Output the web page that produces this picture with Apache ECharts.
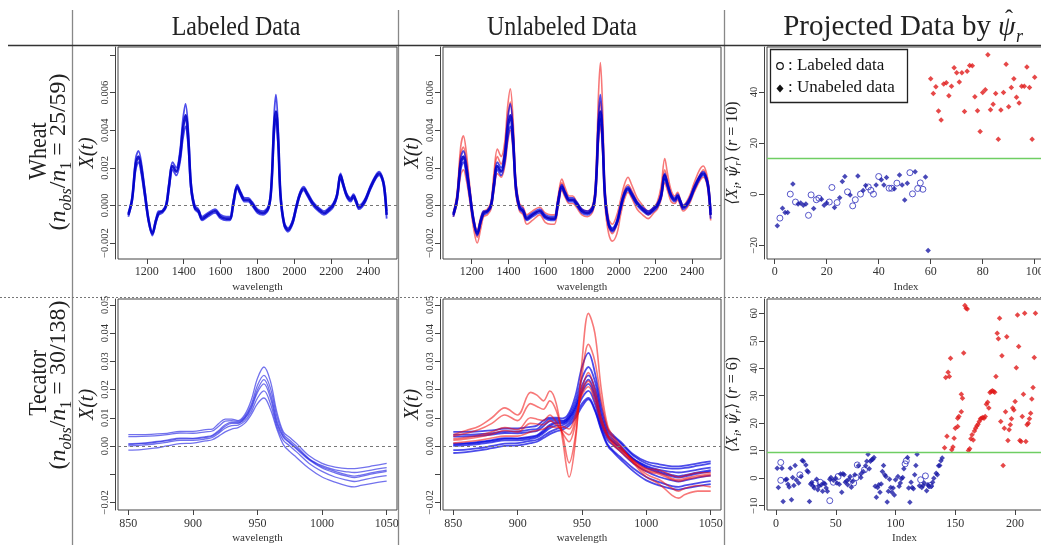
<!DOCTYPE html>
<html><head><meta charset="utf-8">
<script src="https://cdn.jsdelivr.net/npm/echarts@6/dist/echarts.min.js"></script>
<style>html,body{margin:0;padding:0;background:#fff}#c{width:1041px;height:545px}</style>
</head><body><div id="c"></div>
<script>
// ---------------- DATA ----------------
const COL_TITLES = ['Labeled Data', 'Unlabeled Data', 'Projected Data by'];
const ROW_NAMES = ['Wheat', 'Tecator'];
const ROW_COUNTS = ['25/59', '30/138'];

// Wheat spectra (wavelength grid, curves)
const W_WL = [1100,1120,1140,1155,1170,1190,1210,1230,1250,1265,1285,1305,1320,1340,1360,1380,1395,1410,1425,1440,1460,1480,1500,1530,1570,1600,1630,1650,1670,1690,1710,1730,1750,1770,1800,1830,1860,1875,1890,1900,1912,1925,1945,1965,1990,2010,2030,2050,2070,2100,2130,2160,2190,2210,2230,2250,2265,2285,2305,2320,2335,2350,2380,2410,2440,2460,2480,2490,2500];
const W_LAB_MID = [-0.0005,0.0003,0.0022,0.0026,0.0020, 0.0006,-0.0008,-0.0015,-0.0008,-0.0004, -0.0003,0.0000,0.0010,0.0021,0.0018, 0.0026,0.0040,0.0048,0.0035,0.0010, -0.0001,-0.0003,-0.0007,-0.0005,-0.0003, -0.0006,-0.0007,-0.0007,0.0002,0.0010, 0.0006,0.0003,0.0003,0.0001,-0.0003, -0.0004,-0.0001,0.0010,0.0042,0.0050, 0.0035,0.0005,-0.0010,-0.0013,-0.0009, -0.0001,0.0006,0.0009,0.0006,0.0001, -0.0002,-0.0004,-0.0002,0.0000,0.0005, 0.0016,0.0011,0.0005,0.0003,0.0005, 0.0002,-0.0001,0.0002,0.0009,0.0015, 0.0017,0.0013,0.0007,-0.0005];
const W_LAB_HI = [-0.0004,0.0004,0.0025,0.0029,0.0023, 0.0008,-0.0007,-0.0014,-0.0007,-0.0003, -0.0003,0.0001,0.0012,0.0023,0.0020, 0.0029,0.0045,0.0054,0.0040,0.0012, 0.0000,-0.0002,-0.0006,-0.0004,-0.0002, -0.0005,-0.0006,-0.0006,0.0003,0.0011, 0.0007,0.0004,0.0004,0.0002,-0.0002, -0.0003,0.0000,0.0012,0.0048,0.0059, 0.0041,0.0007,-0.0009,-0.0012,-0.0008, 0.0000,0.0007,0.0010,0.0007,0.0002, -0.0001,-0.0003,-0.0001,0.0001,0.0006, 0.0017,0.0012,0.0006,0.0004,0.0006, 0.0003,0.0000,0.0003,0.0010,0.0016, 0.0018,0.0014,0.0009,-0.0003];
const W_LAB_LO = [-0.0006,0.0002,0.0019,0.0023,0.0017, 0.0004,-0.0009,-0.0016,-0.0009,-0.0005, -0.0004,-0.0001,0.0008,0.0019,0.0016, 0.0023,0.0035,0.0042,0.0031,0.0008, -0.0002,-0.0004,-0.0008,-0.0006,-0.0004, -0.0007,-0.0008,-0.0008,0.0000,0.0009, 0.0005,0.0002,0.0002,0.0000,-0.0004, -0.0005,-0.0002,0.0008,0.0037,0.0046, 0.0031,0.0003,-0.0011,-0.0014,-0.0010, -0.0002,0.0005,0.0008,0.0005,0.0000, -0.0003,-0.0005,-0.0003,-0.0001,0.0004, 0.0014,0.0010,0.0004,0.0002,0.0004, 0.0001,-0.0002,0.0001,0.0008,0.0014, 0.0016,0.0012,0.0005,-0.0007];
const W_UNL_RED_HI = [-0.0004,0.0006,0.0031,0.0037,0.0029, 0.0010,-0.0006,-0.0013,-0.0006,-0.0003, -0.0002,0.0002,0.0016,0.0030,0.0026, 0.0034,0.0052,0.0062,0.0046,0.0014, 0.0001,-0.0001,-0.0005,-0.0003,-0.0001, -0.0004,-0.0005,-0.0005,0.0005,0.0014, 0.0009,0.0005,0.0005,0.0002,-0.0002, -0.0003,0.0001,0.0016,0.0060,0.0076, 0.0052,0.0010,-0.0007,-0.0010,-0.0005, 0.0003,0.0011,0.0015,0.0011,0.0004, 0.0000,-0.0003,-0.0001,0.0002,0.0010, 0.0025,0.0017,0.0008,0.0005,0.0007, 0.0003,0.0000,0.0004,0.0012,0.0019, 0.0021,0.0016,0.0010,-0.0002];
const W_UNL_RED_MID = [-0.0005,0.0005,0.0027,0.0031,0.0024, 0.0007,-0.0008,-0.0017,-0.0009,-0.0004, -0.0003,0.0000,0.0013,0.0026,0.0022, 0.0030,0.0046,0.0055,0.0040,0.0011, -0.0001,-0.0003,-0.0007,-0.0005,-0.0003, -0.0006,-0.0007,-0.0007,0.0003,0.0012, 0.0007,0.0003,0.0003,0.0001,-0.0003, -0.0004,-0.0001,0.0011,0.0045,0.0055, 0.0038,0.0005,-0.0011,-0.0015,-0.0010, -0.0001,0.0008,0.0011,0.0008,0.0002, -0.0002,-0.0005,-0.0002,0.0000,0.0007, 0.0019,0.0013,0.0006,0.0003,0.0005, 0.0002,-0.0001,0.0002,0.0010,0.0016, 0.0019,0.0014,0.0008,-0.0005];
const W_UNL_RED_LO = [-0.0006,0.0001,0.0016,0.0019,0.0014, 0.0002,-0.0012,-0.0020,-0.0012,-0.0006, -0.0005,-0.0002,0.0007,0.0017,0.0015, 0.0021,0.0033,0.0040,0.0029,0.0006, -0.0003,-0.0005,-0.0010,-0.0008,-0.0005, -0.0009,-0.0010,-0.0010,-0.0001,0.0008, 0.0004,0.0001,0.0001,-0.0001,-0.0005, -0.0006,-0.0003,0.0006,0.0034,0.0043, 0.0028,0.0000,-0.0015,-0.0019,-0.0015, -0.0005,0.0003,0.0007,0.0004,-0.0002, -0.0005,-0.0007,-0.0004,-0.0002,0.0003, 0.0012,0.0008,0.0002,0.0001,0.0003, 0.0000,-0.0003,0.0000,0.0007,0.0013, 0.0015,0.0011,0.0003,-0.0008];

// Tecator spectra
const T_WL = [850,860,870,880,890,900,910,915,920,925,930,935,940,945,950,955,960,965,970,975,980,990,1000,1010,1020,1025,1030,1040,1050];
const T_LAB_HI  = [0.0040,0.0040,0.0042,0.0045,0.0052,0.0052,0.0058,0.0060,0.0080,0.0095,0.0095,0.0090,0.0110,0.0160,0.0240,0.0280,0.0230,0.0120,0.0050,0.0030,0.0010,-0.0035,-0.0062,-0.0075,-0.0080,-0.0080,-0.0078,-0.0070,-0.0062];
const T_LAB_MH  = [0.0033,0.0034,0.0036,0.0040,0.0046,0.0045,0.0050,0.0053,0.0070,0.0088,0.0090,0.0087,0.0103,0.0145,0.0215,0.0250,0.0205,0.0105,0.0042,0.0020,0.0000,-0.0045,-0.0070,-0.0085,-0.0092,-0.0094,-0.0092,-0.0084,-0.0077];
const T_LAB_MID = [0.0005,0.0008,0.0012,0.0018,0.0025,0.0025,0.0030,0.0035,0.0050,0.0070,0.0080,0.0080,0.0095,0.0130,0.0190,0.0220,0.0170,0.0080,0.0030,0.0010,-0.0010,-0.0050,-0.0078,-0.0095,-0.0108,-0.0112,-0.0108,-0.0098,-0.0090];
const T_LAB_M2  = [0.0008,0.0010,0.0015,0.0021,0.0028,0.0027,0.0033,0.0038,0.0055,0.0075,0.0084,0.0083,0.0099,0.0137,0.0200,0.0235,0.0185,0.0090,0.0035,0.0013,-0.0006,-0.0047,-0.0074,-0.0090,-0.0103,-0.0107,-0.0103,-0.0094,-0.0086];
const T_LAB_ML  = [0.0000,0.0003,0.0007,0.0013,0.0020,0.0020,0.0025,0.0030,0.0045,0.0063,0.0072,0.0074,0.0088,0.0120,0.0170,0.0195,0.0150,0.0070,0.0020,0.0000,-0.0020,-0.0062,-0.0090,-0.0110,-0.0122,-0.0126,-0.0122,-0.0112,-0.0105];
const T_LAB_LO  = [-0.0015,-0.0013,-0.0008,0.0000,0.0008,0.0010,0.0018,0.0022,0.0035,0.0050,0.0060,0.0065,0.0080,0.0110,0.0150,0.0170,0.0130,0.0060,0.0005,-0.0020,-0.0040,-0.0080,-0.0110,-0.0128,-0.0142,-0.0145,-0.0140,-0.0132,-0.0125];
const T_UNL_BLUE_HI = [0.0050,0.0050,0.0052,0.0055,0.0062,0.0062,0.0068,0.0072,0.0090,0.0100,0.0100,0.0098,0.0118,0.0180,0.0280,0.0330,0.0260,0.0140,0.0060,0.0035,0.0015,-0.0030,-0.0055,-0.0065,-0.0072,-0.0072,-0.0070,-0.0062,-0.0055];
const T_UNL_BLUE_LO = [-0.0025,-0.0022,-0.0016,-0.0008,0.0000,0.0002,0.0010,0.0015,0.0028,0.0042,0.0052,0.0058,0.0072,0.0100,0.0140,0.0165,0.0125,0.0055,0.0000,-0.0025,-0.0048,-0.0090,-0.0122,-0.0140,-0.0152,-0.0155,-0.0150,-0.0142,-0.0135];
const T_UNL_RED_HI  = [0.0040,0.0055,0.0070,0.0100,0.0135,0.0110,0.0190,0.0180,0.0160,0.0195,0.0150,0.0020,-0.0110,0.0020,0.0300,0.0470,0.0400,0.0200,0.0070,0.0030,0.0000,-0.0060,-0.0110,-0.0135,-0.0175,-0.0185,-0.0172,-0.0160,-0.0160];
const T_UNL_RED_H2  = [0.0035,0.0045,0.0058,0.0080,0.0110,0.0090,0.0150,0.0140,0.0130,0.0160,0.0125,0.0040,-0.0060,0.0040,0.0250,0.0360,0.0300,0.0160,0.0060,0.0020,-0.0005,-0.0055,-0.0100,-0.0120,-0.0150,-0.0160,-0.0150,-0.0140,-0.0145];
const T_UNL_RED_MID = [0.0025,0.0030,0.0038,0.0050,0.0065,0.0058,0.0100,0.0095,0.0090,0.0110,0.0085,0.0045,0.0015,0.0080,0.0200,0.0260,0.0200,0.0100,0.0040,0.0010,-0.0010,-0.0050,-0.0080,-0.0085,-0.0105,-0.0110,-0.0105,-0.0095,-0.0095];
const T_UNL_RED_M2  = [0.0020,0.0025,0.0032,0.0042,0.0055,0.0050,0.0080,0.0078,0.0075,0.0090,0.0075,0.0055,0.0040,0.0095,0.0190,0.0230,0.0180,0.0090,0.0035,0.0005,-0.0015,-0.0055,-0.0085,-0.0095,-0.0115,-0.0120,-0.0115,-0.0105,-0.0100];
const T_UNL_RED_LO  = [0.0010,0.0015,0.0020,0.0028,0.0035,0.0035,0.0050,0.0055,0.0060,0.0070,0.0065,0.0068,0.0060,0.0110,0.0180,0.0210,0.0160,0.0080,0.0030,0.0000,-0.0020,-0.0060,-0.0090,-0.0100,-0.0120,-0.0125,-0.0120,-0.0110,-0.0105];

// Wheat projections, index 1..100 (1..59 class 1 / blue)
const WHEAT_N1 = 59;
const WHEAT_PROJ = [-12.4,-9.4,-5.5,-7.2,-7.2,0,4.0,-3.1,-3.9,-3.5, -4.4,-3.9,-8.3,-0.3,-5.6,-2.2,-1.6,-2.0,-4.4,-3.5, -3.1,2.6,-5.2,-3.3,-1.4,4.9,6.9,0.9,-0.3,-4.6, -2.2,7.1,0,1.4,3.4,2.8,1.5,0,3.6,6.9, 5.6,3.6,6.5,2.3,2.3,2.1,4.3,7.5,3.6,-2.3, 4.3,8.4,0.1,8.8,2.2,4.4,1.9,6.7,-22.1,
  45.2,39.4,42.0,32.5,29.0,43.1,43.6,38.5,42.2,49.5, 47.5,43.9,47.5,32.3,48.1,50.4,50.3,38.1,32.6,24.5, 39.8,40.9,54.6,33.0,35.2,39.4,21.5,32.9,39.8,50.8, 34.2,41.7,45.2,37.9,35.7,42.2,42.2,49.8,41.7,21.5, 45.8];
const WHEAT_OPEN = [2,6,8,13,14,16,17,21,22,24,28,30,31,33,36,37,38,40,44,45,47,52,53,55,56,57];
const WHEAT_CUT = 14;

// Tecator projections
const TEC_B_IDX = [1,2,4,4,5,6,8,9,10,11, 12,13,14,15,16,17,19,20,21,22, 23,25,26,27,28,29,30,31,32,33, 34,35,36,37,38,39,40,41,42,43, 45,45,46,48,48,50,51,52,53,54, 55,56,57,58,59,60,61,62,63,64, 65,66,67,68,69,71,71,73,74,75, 76,77,78,79,80,81,82,83,84,85, 86,87,88,89,90,91,92,93,94,95, 96,97,98,99,100,102,103,104,105,106, 107,108,109,110,111,112,113,114,115,116, 117,118,120,121,122,123,124,125,126,127, 128,129,130,131,132,134,135,136,137,138, 139];
const TEC_B_VAL = [3.6,-3.4,-0.8,5.7,3.6,-8.5,-0.6,-0.4,-2.2,-3.2, 3.6,-7.9,0.2,-2.7,4.6,-0.7,-1.8,1.2,0.6,6.4, 6.1,4.8,2.7,2.2,-8.5,-2.1,-1.6,-2.9,-3.6,-1.8, -0.4,-4.2,-3.0,-1.5,-2.4,-4.8,-1.8,-2.1,-3.6,-4.8, -8.2,-0.4,0.2,-1.5,-0.8,0,-1.8,0.6,-2.2,1.5, -5.1,1.6,1.2,-1.5,-1.0,-2.4,-0.4,0.6,-3.3,-1.2, -1.8,1.2,0.2,4.8,4.5,0.2,1.5,2.4,3.0,4.5, 6.1,8.7,3.4,6.1,6.7,6.9,7.5,-3.0,-7.0,-3.4, -2.4,-5.1,-2.1,2.4,4.6,1.2,0.6,-8.7,-4.8,-0.4, -3.4,-5.1,-3.6,-6.1,-0.6,0.6,-3.0,-1.8,-0.2,0.2, 3.4,5.2,6.3,7.5,-3.6,-8.8,-1.5,-3.4,-3.9,1.2, 4.6,8.7,-2.8,-0.6,-3.4,-2.7,-1.8,0.8,-4.6,-2.4, -3.0,-2.7,-3.0,-1.5,0,1.8,1.2,4.5,4.6,6.3, 7.3];
const TEC_B_OPEN = [0,0,1,1,0,0,0,0,0,0, 0,0,0,0,0,0,0,1,0,0, 0,0,0,0,0,0,0,0,0,1, 0,0,0,1,0,0,0,0,0,0, 1,0,0,1,0,0,0,1,0,0, 0,0,0,0,0,0,0,0,0,0, 1,0,1,1,0,0,0,0,1,0, 0,0,0,0,0,0,0,0,0,0, 0,0,0,0,0,0,0,0,0,0, 0,0,0,0,0,0,0,0,0,0, 0,1,1,0,0,0,0,0,0,0, 0,0,0,1,0,0,0,1,0,0, 0,1,0,0,0,0,0,0,0,0, 0];
const TEC_R_IDX = [141,142,143,144,145,146,147,148,149,150, 152,152,153,155,155,156,157,158,159,160, 161,162,163,164,165,166,167,168,169,170, 171,172,173,174,175,176,177,178,179,180, 181,182,183,184,185,186,187,188,189,190, 191,192,193,194,195,196,197,198,199,200, 201,202,203,204,205,206,207,208,209,210, 211,212,213,214,215,216,217];
const TEC_R_VAL = [11.1,36.6,15.2,38.5,37.0,43.6,10.3,11.3,14.5,18.2, 18.8,21.8,22.4,24.2,30.5,29.1,45.5,62.8,61.8,61.6, 10.1,10.7,14.3,15.8,13.9,17.2,18.2,19.0,19.6,20.6, 21.6,21.8,22.1,21.8,22.4,26.9,27.6,25.5,31.2,31.5, 31.8,31.5,31.3,37.0,52.7,50.7,58.2,20.6,44.5,4.6, 18.2,24.2,51.5,13.7,17.6,19.4,21.6,25.5,24.8,27.9, 40.2,59.4,47.9,13.7,13.3,22.4,30.5,60.0,13.3,19.4, 20.0,21.6,23.6,28.8,33.0,43.9,60.0];
const TEC_CUT = 9.5;

// Axis ticks
const W_XTICKS = [1200,1400,1600,1800,2000,2200,2400];
const W_YTICKS = [-0.002,0,0.002,0.004,0.006,0.008];
const W_YLABELS = [-0.002,0,0.002,0.004,0.006];
const T_XTICKS = [850,900,950,1000,1050];
const T_YTICKS = [-0.02,-0.01,0,0.01,0.02,0.03,0.04,0.05];
const T_YLABELS = [-0.02,0,0.01,0.02,0.03,0.04,0.05];
const WP_XTICKS = [0,20,40,60,80,100];
const WP_YTICKS = [-20,0,20,40];
const TP_XTICKS = [0,50,100,150,200];
const TP_YTICKS = [-10,0,10,20,30,40,50,60];

// ---------------- CHART ----------------
const FONT = '"Liberation Serif", "DejaVu Serif", serif';
const HATFONT = '"DejaVu Serif", serif';
const BLUE_LINE = 'rgba(0,0,225,0.7)';
const RED_LINE = 'rgba(240,10,10,0.55)';
const BLUE_PT = '#1c1ca6';
const RED_PT = '#e01a1a';
const minus = s => s.replace('-', '\u2212');
const f3 = v => minus(v.toFixed(3));
const f2 = v => minus(v.toFixed(2));
const f0 = v => minus(String(Math.round(v)));

const gridsPos = [
  {left: 118, top: 47, width: 279, height: 212},
  {left: 443, top: 47, width: 278, height: 212},
  {left: 767, top: 47, width: 278, height: 212},
  {left: 118, top: 299, width: 279, height: 211},
  {left: 443, top: 299, width: 278, height: 211},
  {left: 767, top: 299, width: 275, height: 211}
];
const grid = gridsPos.map(g => Object.assign({show: true, borderColor: '#444', borderWidth: 1, backgroundColor: 'transparent', containLabel: false, outerBoundsMode: 'none'}, g));

function xAx(gi, min, max, ticks, name, margin) {
  return {type: 'value', gridIndex: gi, min, max, splitLine: {show: false},
    axisLine: {show: false, onZero: false},
    axisTick: {show: true, length: 5, customValues: ticks, lineStyle: {color: '#444'}},
    axisLabel: {customValues: ticks, fontFamily: FONT, fontSize: 12, color: '#333', margin, formatter: f0},
    name, nameLocation: 'middle', nameGap: 23, nameTextStyle: {fontFamily: FONT, fontSize: 11, color: '#333'}};
}
function yAx(gi, min, max, ticks, labels, fmt, name, nameGap, extra) {
  return Object.assign({type: 'value', gridIndex: gi, min, max, offset: 3, splitLine: {show: false},
    axisLine: {show: true, onZero: false, lineStyle: {color: '#444'}},
    axisTick: {show: true, length: 5, customValues: ticks, lineStyle: {color: '#444'}},
    axisLabel: {customValues: labels, rotate: 90, fontFamily: FONT, fontSize: 10.5, color: '#333', margin: 4, formatter: fmt},
    name, nameLocation: 'middle', nameRotate: 90, nameGap}, extra || {});
}
const xtName = {nameTextStyle: {fontFamily: FONT, fontStyle: 'italic', fontSize: 20, color: '#222'}};
const projRich = () => ({
  nameTextStyle: {fontFamily: FONT, fontSize: 16, color: '#222', rich: {
    n: {fontFamily: FONT, fontSize: 16, color: '#222', verticalAlign: 'bottom', padding: [0, 0, 3, 0]},
    i: {fontFamily: FONT, fontSize: 16, fontStyle: 'italic', color: '#222', verticalAlign: 'bottom', padding: [0, 0, 3, 0]},
    h: {fontFamily: HATFONT, fontSize: 15, fontStyle: 'italic', color: '#222', verticalAlign: 'bottom', padding: [0, 0, 3, 0]},
    s: {fontFamily: FONT, fontSize: 11, fontStyle: 'italic', color: '#222', verticalAlign: 'bottom'}
  }}
});

const xAxis = [
  xAx(0, 1044, 2556, W_XTICKS, 'wavelength', 7),
  xAx(1, 1044, 2556, W_XTICKS, 'wavelength', 7),
  xAx(2, -2.96, 103.96, WP_XTICKS, 'Index', 7),
  xAx(3, 842, 1058, T_XTICKS, 'wavelength', 8),
  xAx(4, 842, 1058, T_XTICKS, 'wavelength', 8),
  xAx(5, -7.5, 222.5, TP_XTICKS, 'Index', 8)
];
const yAxis = [
  yAx(0, -0.00285, 0.00843, W_YTICKS, W_YLABELS, f3, 'X(t)', 17, xtName),
  yAx(1, -0.00285, 0.00843, W_YTICKS, W_YLABELS, f3, 'X(t)', 17, xtName),
  yAx(2, -25.4, 57.6, WP_YTICKS, WP_YTICKS, f0, '{i|\u27E8X}{s|i}{n|, }{h|\u03C8\u0302}{s|r}{n|\u27E9 (}{i|r}{n| = 10)}', 20, projRich()),
  yAx(3, -0.0227, 0.0521, T_YTICKS, T_YLABELS, f2, 'X(t)', 17, xtName),
  yAx(4, -0.0227, 0.0521, T_YTICKS, T_YLABELS, f2, 'X(t)', 17, xtName),
  yAx(5, -11.6, 65.2, TP_YTICKS, TP_YTICKS, f0, '{i|\u27E8X}{s|i}{n|, }{h|\u03C8\u0302}{s|r}{n|\u27E9 (}{i|r}{n| = 6)}', 20, projRich())
];

const pairs = (xs, ys) => xs.map((x, i) => [x, ys[i]]);
function curve(gi, xs, ys, color, w) {
  return {type: 'line', xAxisIndex: gi, yAxisIndex: gi, data: pairs(xs, ys), showSymbol: false, smooth: 0.35,
    lineStyle: {color, width: w || 1.6}, silent: true, animation: false};
}
function hline(gi, v, style) {
  return {type: 'line', xAxisIndex: gi, yAxisIndex: gi, data: [], silent: true, animation: false,
    markLine: {silent: true, symbol: 'none', label: {show: false}, animation: false, lineStyle: style, data: [{yAxis: v}]}};
}
function pts(gi, data, kind, color) {
  const open = kind === 'open';
  return {type: 'scatter', xAxisIndex: gi, yAxisIndex: gi, data, animation: false, silent: true,
    symbol: open ? 'circle' : 'diamond', symbolSize: open ? 6 : 5.5,
    itemStyle: open ? {color: 'rgba(0,0,0,0)', borderColor: color, borderWidth: 1, opacity: 0.85} : {color}};
}
const ZERO = {color: '#777', type: [3, 3], width: 1};
const CUT = {color: '#6fce63', type: 'solid', width: 1.3};

const series = [];
// Wheat labeled
series.push(hline(0, 0, ZERO));
[W_LAB_LO, W_LAB_HI].forEach(c => series.push(curve(0, W_WL, c, BLUE_LINE, 1.8)));
series.push(curve(0, W_WL, W_LAB_MID, 'rgba(0,0,200,0.9)', 2.6));
// Wheat unlabeled: red under blue
series.push(hline(1, 0, ZERO));
[W_UNL_RED_HI, W_UNL_RED_LO, W_UNL_RED_MID].forEach(c => series.push(curve(1, W_WL, c, RED_LINE, 1.6)));
[W_LAB_LO, W_LAB_HI].forEach(c => series.push(curve(1, W_WL, c, BLUE_LINE, 1.8)));
series.push(curve(1, W_WL, W_LAB_MID, 'rgba(0,0,200,0.9)', 2.6));
// Wheat projected
series.push(hline(2, WHEAT_CUT, CUT));
const wPts = WHEAT_PROJ.map((v, i) => [i + 1, v]);
series.push(pts(2, wPts.filter(p => p[0] <= WHEAT_N1 && WHEAT_OPEN.includes(p[0])), 'open', '#3a3ac0'));
series.push(pts(2, wPts.filter(p => p[0] <= WHEAT_N1 && !WHEAT_OPEN.includes(p[0])), 'fill', BLUE_PT));
series.push(pts(2, wPts.filter(p => p[0] > WHEAT_N1), 'fill', RED_PT));
// Tecator labeled
series.push(hline(3, 0, ZERO));
[T_LAB_HI, T_LAB_MH, T_LAB_MID, T_LAB_M2, T_LAB_ML, T_LAB_LO].forEach(c => series.push(curve(3, T_WL, c, 'rgba(20,20,225,0.6)', 1.3)));
// Tecator unlabeled: blue under red
series.push(hline(4, 0, ZERO));
[T_UNL_BLUE_HI, T_LAB_HI, T_LAB_MH, T_LAB_MID, T_LAB_M2, T_LAB_ML, T_LAB_LO, T_UNL_BLUE_LO].forEach(c => series.push(curve(4, T_WL, c, BLUE_LINE, 1.8)));
[T_UNL_RED_HI, T_UNL_RED_H2, T_UNL_RED_MID, T_UNL_RED_M2, T_UNL_RED_LO].forEach(c => series.push(curve(4, T_WL, c, RED_LINE, 1.6)));
// Tecator projected
series.push(hline(5, TEC_CUT, CUT));
const tB = pairs(TEC_B_IDX, TEC_B_VAL);
series.push(pts(5, tB.filter((p, i) => TEC_B_OPEN[i]), 'open', '#3a3ac0'));
series.push(pts(5, tB.filter((p, i) => !TEC_B_OPEN[i]), 'fill', BLUE_PT));
series.push(pts(5, pairs(TEC_R_IDX, TEC_R_VAL), 'fill', RED_PT));

// ------------- frame graphics -------------
const rowRich = {
  p: {fontFamily: FONT, fontSize: 24, fill: '#222', verticalAlign: 'bottom', padding: [0, 0, 4, 0]},
  i: {fontFamily: FONT, fontSize: 24, fontStyle: 'italic', fill: '#222', verticalAlign: 'bottom', padding: [0, 0, 4, 0]},
  s: {fontFamily: FONT, fontSize: 16, fontStyle: 'italic', fill: '#222', verticalAlign: 'bottom'},
  u: {fontFamily: FONT, fontSize: 16, fill: '#222', verticalAlign: 'bottom'}
};
const titleStyle = {fontFamily: FONT, fontSize: 24, fill: '#222', align: 'center', verticalAlign: 'middle'};
const graphic = [
  {type: 'line', shape: {x1: 72.5, y1: 10, x2: 72.5, y2: 545}, style: {stroke: '#888', lineWidth: 1.3}, silent: true},
  {type: 'line', shape: {x1: 398.5, y1: 10, x2: 398.5, y2: 545}, style: {stroke: '#888', lineWidth: 1.3}, silent: true},
  {type: 'line', shape: {x1: 724.5, y1: 10, x2: 724.5, y2: 545}, style: {stroke: '#888', lineWidth: 1.3}, silent: true},
  {type: 'line', shape: {x1: 8, y1: 45.5, x2: 1041, y2: 45.5}, style: {stroke: '#333', lineWidth: 1.5}, silent: true},
  {type: 'line', shape: {x1: 0, y1: 297.5, x2: 1041, y2: 297.5}, style: {stroke: '#777', lineWidth: 1, lineDash: [2, 2]}, silent: true},
  {type: 'text', x: 236, y: 28, scaleY: 1.15, silent: true, style: Object.assign({text: COL_TITLES[0]}, titleStyle)},
  {type: 'text', x: 562, y: 28, scaleY: 1.15, silent: true, style: Object.assign({text: COL_TITLES[1]}, titleStyle)},
  {type: 'text', x: 991, y: 27, silent: true, style: {text: COL_TITLES[2], fontFamily: FONT, fontSize: 29, fill: '#222', align: 'right', verticalAlign: 'middle'}},
  {type: 'text', x: 998, y: 28, silent: true, style: {text: '\u03C8', fontFamily: FONT, fontSize: 28, fontStyle: 'italic', fill: '#222', align: 'left', verticalAlign: 'middle'}},
  {type: 'text', x: 1016, y: 37, silent: true, style: {text: 'r', fontFamily: FONT, fontSize: 18, fontStyle: 'italic', fill: '#222', align: 'left', verticalAlign: 'middle'}},
  {type: 'text', x: 1009, y: 20, silent: true, style: {text: '\u02C6', fontFamily: FONT, fontSize: 24, fill: '#222', align: 'center', verticalAlign: 'middle'}},
  {type: 'text', x: 40, y: 151, rotation: Math.PI / 2, scaleY: 1.1, silent: true, style: {text: ROW_NAMES[0], fontFamily: FONT, fontSize: 22, fill: '#222', align: 'center', verticalAlign: 'middle'}},
  {type: 'text', x: 61, y: 152, rotation: Math.PI / 2, silent: true, style: {text: '{p|(}{i|n}{s|obs}{p|/}{i|n}{u|1}{p| = ' + ROW_COUNTS[0] + ')}', align: 'center', verticalAlign: 'middle', rich: rowRich}},
  {type: 'text', x: 40, y: 383, rotation: Math.PI / 2, scaleY: 1.1, silent: true, style: {text: ROW_NAMES[1], fontFamily: FONT, fontSize: 22, fill: '#222', align: 'center', verticalAlign: 'middle'}},
  {type: 'text', x: 61, y: 385, rotation: Math.PI / 2, silent: true, style: {text: '{p|(}{i|n}{s|obs}{p|/}{i|n}{u|1}{p| = ' + ROW_COUNTS[1] + ')}', align: 'center', verticalAlign: 'middle', rich: rowRich}},
  // legend in wheat projected panel
  {type: 'rect', shape: {x: 770.5, y: 49.5, width: 137, height: 53}, style: {fill: '#fff', stroke: '#222', lineWidth: 1.3}, silent: true, z: 10},
  {type: 'circle', shape: {cx: 780, cy: 66, r: 3.3}, style: {fill: 'none', stroke: '#111', lineWidth: 1.2}, silent: true, z: 11},
  {type: 'polygon', shape: {points: [[780, 84.5], [783.5, 88.5], [780, 92.5], [776.5, 88.5]]}, style: {fill: '#111'}, silent: true, z: 11},
  {type: 'text', x: 788, y: 66, silent: true, z: 11, style: {text: ': Labeled data', fontFamily: FONT, fontSize: 17, fill: '#111', align: 'left', verticalAlign: 'middle'}},
  {type: 'text', x: 788, y: 88, silent: true, z: 11, style: {text: ': Unabeled data', fontFamily: FONT, fontSize: 17, fill: '#111', align: 'left', verticalAlign: 'middle'}}
];

const chart = echarts.init(document.getElementById('c'), null, {renderer: 'canvas'});
chart.setOption({animation: false, grid, xAxis, yAxis, series, graphic});
</script></body></html>
